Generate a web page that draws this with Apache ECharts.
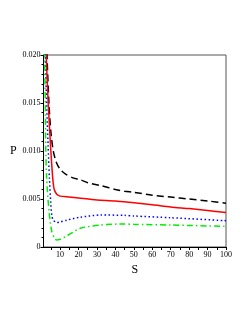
<!DOCTYPE html>
<html><head><meta charset="utf-8">
<script src="https://cdn.jsdelivr.net/npm/echarts@6/dist/echarts.min.js"></script>
<style>html,body{margin:0;padding:0;background:#fff}#c{width:249px;height:323px}</style>
</head><body><div id="c"></div>
<script>
const xLabels = [10,20,30,40,50,60,70,80,90,100];
const xTicks = [5,10,15,20,25,30,35,40,45,50,55,60,65,70,75,80,85,90,95,100];
const yTicks = [0,0.005,0.010,0.015,0.020];
const black = [[2.2,0.026],[2.9,0.020],[4,0.0148],[5,0.0120],[6.3,0.0100],[8,0.0088],[10,0.0081],[13,0.0076],[17,0.0072],[21,0.0070],[25,0.0067],[32,0.0064],[40,0.0060],[45,0.0058],[50,0.0057],[60,0.0054],[70,0.0052],[80,0.0050],[90,0.0048],[100,0.00455]];
const red = [[2,0.026],[2.5,0.020],[3.6,0.0148],[4.8,0.0106],[5.5,0.0085],[6,0.0072],[6.5,0.0063],[7,0.0059],[8.2,0.0055],[10,0.0053],[15,0.0052],[20,0.0051],[30,0.0049],[40,0.0048],[50,0.0046],[60,0.0044],[70,0.00417],[80,0.0040],[90,0.0038],[100,0.0036]];
const blue = [[1.5,0.026],[2,0.020],[2.7,0.0148],[3.5,0.0106],[4.2,0.0072],[4.9,0.0047],[5.5,0.0033],[6.3,0.0028],[8.2,0.00255],[10,0.0026],[13.6,0.0028],[21,0.0031],[32,0.00333],[45,0.0033],[50,0.00323],[70,0.00305],[100,0.00274]];
const green = [[1.2,0.026],[1.6,0.020],[2,0.0148],[2.2,0.0106],[2.7,0.0072],[4,0.0037],[5.5,0.0016],[7,0.0009],[8.2,0.00073],[10,0.0008],[13.6,0.00115],[21,0.00195],[32,0.00229],[45,0.0024],[50,0.00236],[70,0.00229],[100,0.00215]];

const chart = echarts.init(document.getElementById('c'), null, {renderer:'canvas'});
const serif = '"Liberation Serif","DejaVu Serif",serif';
function mk(data, color, type){
  return {type:'line', data:data, symbol:'none', smooth:0.25, clip:true,
    lineStyle:{color:color, width:1.5, type:type}};
}
chart.setOption({
  animation:false,
  grid:{left:43.5, right:23, top:55, bottom:76, show:true, borderColor:'#555', borderWidth:1},
  xAxis:{type:'value', min:1, max:100,
    name:'S', nameLocation:'middle', nameGap:15,
    nameTextStyle:{fontFamily:serif, fontSize:12, color:'#000'},
    axisLine:{show:true, onZero:false, lineStyle:{color:'#000', width:1}},
    axisTick:{show:true, inside:false, length:3, customValues:xTicks, lineStyle:{color:'#000'}},
    axisLabel:{customValues:xLabels, fontFamily:serif, fontSize:8, color:'#000', margin:4},
    splitLine:{show:false}},
  yAxis:{type:'value', min:0, max:0.020, interval:0.005,
    name:'P', nameLocation:'middle', nameGap:25, nameRotate:0,
    nameTextStyle:{fontFamily:serif, fontSize:12, color:'#000'},
    axisLine:{show:true, lineStyle:{color:'#000', width:1}},
    axisTick:{show:true, inside:false, length:3, lineStyle:{color:'#000'}},
    minorTick:{show:true, splitNumber:5, length:2, lineStyle:{color:'#000'}},
    axisLabel:{fontFamily:serif, fontSize:8, color:'#000', margin:3,
      formatter:function(v){return v===0?'0':v.toFixed(3);}},
    splitLine:{show:false}},
  series:[
    mk(black,'#000000',[7,4]),
    mk(red,'#ff0000','solid'),
    mk(blue,'#0000ff',[1.5,2.5]),
    mk(green,'#00ee00',[6,3,1.5,3])
  ]
});
</script></body></html>
